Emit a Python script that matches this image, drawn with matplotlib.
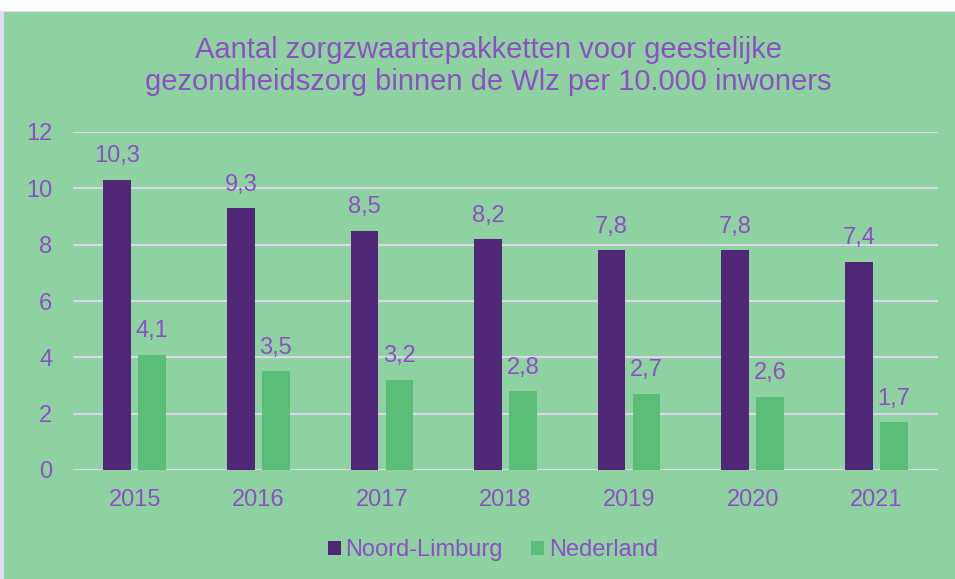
import numpy as np
import matplotlib.pyplot as plt
from matplotlib.patches import Rectangle

years = ["2015", "2016", "2017", "2018", "2019", "2020", "2021"]
noord_limburg = [10.3, 9.3, 8.5, 8.2, 7.8, 7.8, 7.4]
nederland = [4.1, 3.5, 3.2, 2.8, 2.7, 2.6, 1.7]
series_names = ["Noord-Limburg", "Nederland"]

BG = "#8ED2A2"
DARK = "#4F2776"
GREEN = "#5BBE78"
TEXT = "#8E4EC6"
GRID = "#DCD6EA"

plt.rcParams['font.family'] = ['Liberation Sans', 'DejaVu Sans']

fig = plt.figure(figsize=(9.55, 5.79), dpi=100)
fig.patch.set_facecolor("white")
# green chart area with a thin lavender frame on the left
fig.patches.append(Rectangle((0, 0), 1, 568 / 579, transform=fig.transFigure,
                             facecolor="#E2DAEE", edgecolor="none", zorder=-2))
fig.patches.append(Rectangle((4 / 955, 0), 1, 567 / 579, transform=fig.transFigure,
                             facecolor=BG, edgecolor="none", zorder=-1))

ax = fig.add_axes([73 / 955, 109 / 579, 865 / 955, 338 / 579])
ax.set_facecolor("none")

x = np.arange(len(years))
w = 0.225
off = 0.1416
b1 = ax.bar(x - off, noord_limburg, width=w, color=DARK, label=series_names[0], zorder=3)
b2 = ax.bar(x + off, nederland, width=w, color=GREEN, label=series_names[1], zorder=3)

for bars, vals in ((b1, noord_limburg), (b2, nederland)):
    for r, v in zip(bars, vals):
        ax.annotate(str(v).replace(".", ","), (r.get_x() + r.get_width() / 2, v),
                    xytext=(0, 9), textcoords="offset points", ha="center", va="bottom",
                    fontsize=17, color=TEXT)

ax.set_xlim(-0.5, len(years) - 0.5)
ax.set_ylim(0, 12)
ax.set_yticks(np.arange(0, 13, 2))
ax.set_xticks(x)
ax.set_xticklabels(years)
ax.tick_params(axis="both", length=0, labelsize=17, labelcolor=TEXT)
ax.tick_params(axis="y", pad=15)
ax.tick_params(axis="x", pad=14)
ax.grid(axis="y", color=GRID, linewidth=1.5, zorder=1)
for s in ax.spines.values():
    s.set_visible(False)

fig.text(488 / 955, 1 - 66 / 579,
         "Aantal zorgzwaartepakketten voor geestelijke\ngezondheidszorg binnen de Wlz per 10.000 inwoners",
         ha="center", va="center", fontsize=21, color=TEXT, linespacing=1.15)

leg = fig.legend(loc="center", bbox_to_anchor=(493 / 955, 1 - 550 / 579), ncol=2,
                 frameon=False, fontsize=17, handlelength=0.55, handleheight=0.55,
                 handletextpad=0.2, columnspacing=1.2)
for t in leg.get_texts():
    t.set_color(TEXT)

fig.savefig("out.png", dpi=100, facecolor=fig.get_facecolor())
